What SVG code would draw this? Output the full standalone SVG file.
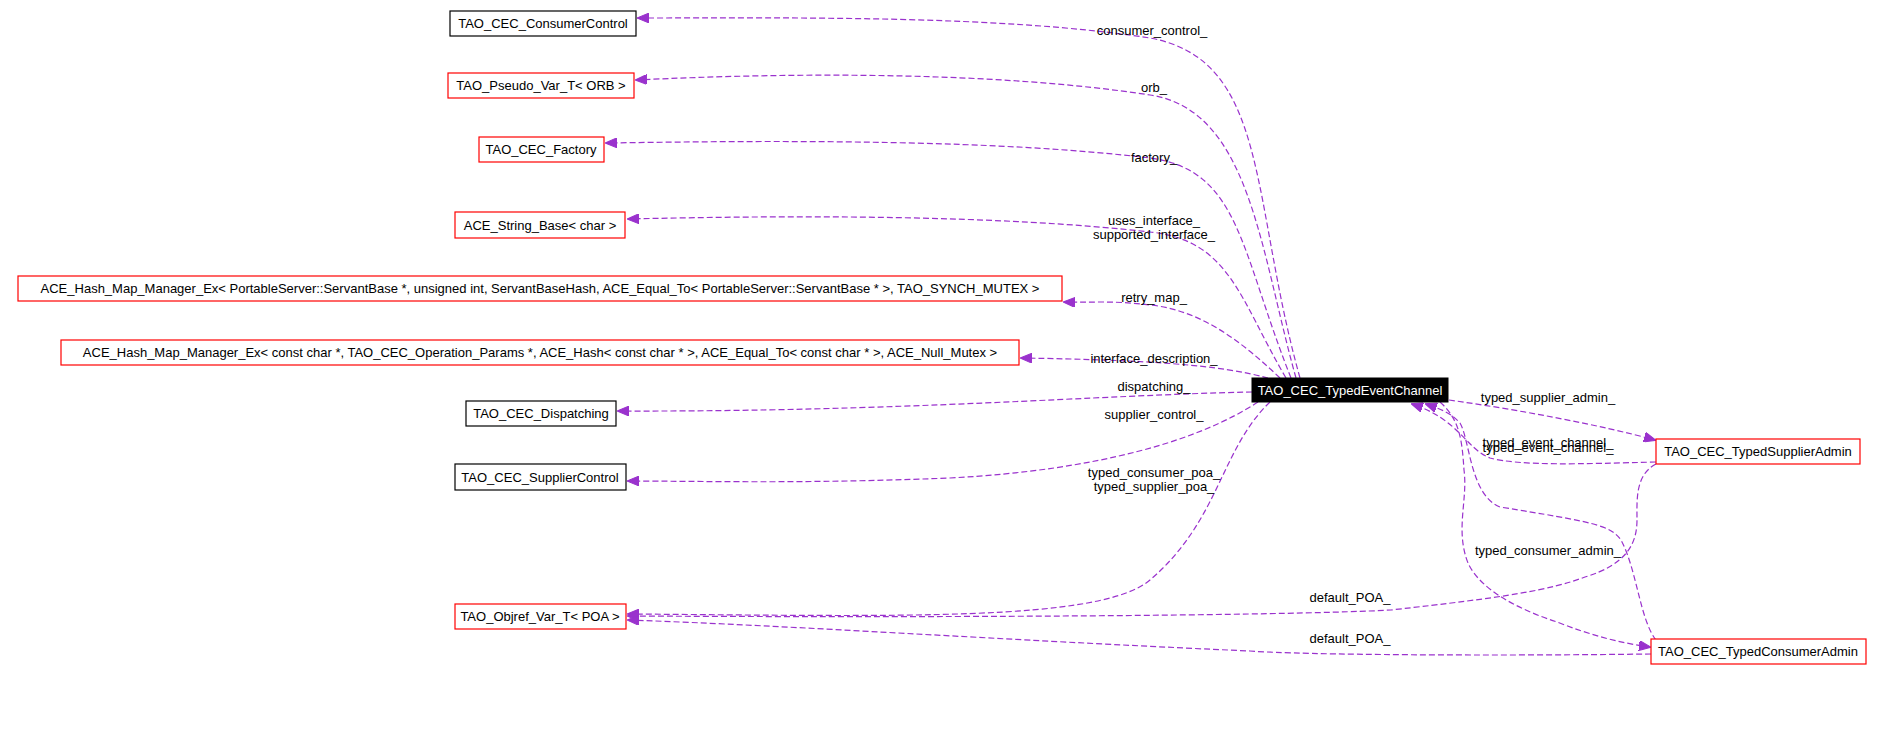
<svg xmlns="http://www.w3.org/2000/svg" width="1883" height="743" viewBox="0 0 1883 743">
<style>
text{font-family:"Liberation Sans",Arial,sans-serif;font-size:13px;fill:#000}
.n{fill:#fff;stroke:#f00;stroke-width:1.2}
.b{fill:#fff;stroke:#000;stroke-width:1.2}
.e{fill:none;stroke:#9a32cd;stroke-width:1.2;stroke-dasharray:6,3}
.m{text-anchor:middle}
</style>
<defs><marker id="a" markerWidth="12" markerHeight="10" refX="11" refY="5" orient="auto" markerUnits="userSpaceOnUse"><path d="M0,0 L12,5 L0,10 z" fill="#9a32cd" stroke="#9a32cd"/></marker></defs>
<rect width="1883" height="743" fill="#fff"/>
<g id="edges">
<path class="e" marker-end="url(#a)" d="M1300,378 C1250,200 1270,60 1150,38 C1000,15 800,18 638,18"/>
<path class="e" marker-end="url(#a)" d="M1296,378 C1260,250 1250,110 1150,95 C1000,72 800,72 636,80"/>
<path class="e" marker-end="url(#a)" d="M1291,378 C1240,250 1240,170 1150,158 C1000,140 800,140 606,143"/>
<path class="e" marker-end="url(#a)" d="M1286,378 C1240,300 1230,240 1150,232 C1000,215 800,215 628,219"/>
<path class="e" marker-end="url(#a)" d="M1280,378 C1240,340 1200,310 1150,305 C1110,300 1090,303 1064,302"/>
<path class="e" marker-end="url(#a)" d="M1268,378 C1220,365 1150,360 1021,358"/>
<path class="e" marker-end="url(#a)" d="M1252,392 C1100,395 900,412 618,411"/>
<path class="e" marker-end="url(#a)" d="M1258,402 C1200,440 1100,470 950,478 C800,484 700,481 628,481"/>
<path class="e" marker-end="url(#a)" d="M1270,402 C1220,450 1220,520 1150,580 C1100,622 900,616 628,614"/>
<path class="e" marker-end="url(#a)" d="M1449,400 C1520,410 1600,425 1655,440"/>
<path class="e" marker-end="url(#a)" d="M1656,462 C1580,464 1520,466 1490,458 C1465,448 1460,420 1412,404"/>
<path class="e" marker-end="url(#a)" d="M1656,640 C1640,620 1637,570 1621,540 C1610,525 1593,522 1500,507 C1470,495 1470,440 1460,423 C1450,412 1440,409 1426,404"/>
<path class="e" marker-end="url(#a)" d="M1440,402 C1460,420 1462,440 1464,470 C1468,500 1455,530 1468,563 C1480,590 1520,610 1557,622 C1590,635 1620,643 1650,647"/>
<path class="e" marker-end="url(#a)" d="M1656,464 C1635,475 1637,500 1637,520 C1637,545 1625,565 1585,577 C1550,590 1508,597 1391,610 C1300,615 1000,618 628,616"/>
<path class="e" marker-end="url(#a)" d="M1651,654 C1500,656 1300,655 1250,651 C1000,640 800,626 628,620"/>
</g>
<g id="labels">
<text class="m" x="1152" y="35">consumer_control_</text>
<text class="m" x="1154" y="92">orb_</text>
<text class="m" x="1154" y="162">factory_</text>
<text class="m" x="1154" y="225">uses_interface_</text>
<text class="m" x="1154" y="239">supported_interface_</text>
<text class="m" x="1154" y="302">retry_map_</text>
<text class="m" x="1154" y="363">interface_description_</text>
<text class="m" x="1154" y="391">dispatching_</text>
<text class="m" x="1154" y="419">supplier_control_</text>
<text class="m" x="1154" y="477">typed_consumer_poa_</text>
<text class="m" x="1154" y="491">typed_supplier_poa_</text>
<text class="m" x="1548" y="402">typed_supplier_admin_</text>
<text class="m" x="1548" y="447">typed_event_channel_</text>
<text class="m" x="1548" y="452">typed_event_channel_</text>
<text class="m" x="1548" y="555">typed_consumer_admin_</text>
<text class="m" x="1350" y="602">default_POA_</text>
<text class="m" x="1350" y="643">default_POA_</text>
</g>
<g id="n1"><rect class="b" x="450" y="11" width="186" height="25"/><text class="m" x="543" y="28">TAO_CEC_ConsumerControl</text></g>
<g id="n2"><rect class="n" x="448" y="73" width="186" height="25"/><text class="m" x="541" y="90">TAO_Pseudo_Var_T&lt; ORB &gt;</text></g>
<g id="n3"><rect class="n" x="479" y="137" width="125" height="25"/><text class="m" x="541" y="154">TAO_CEC_Factory</text></g>
<g id="n4"><rect class="n" x="455" y="212" width="170" height="26"/><text class="m" x="540" y="230">ACE_String_Base&lt; char &gt;</text></g>
<g id="n5"><rect class="n" x="18" y="276" width="1044" height="25"/><text class="m" x="540" y="293">ACE_Hash_Map_Manager_Ex&lt; PortableServer::ServantBase *, unsigned int, ServantBaseHash, ACE_Equal_To&lt; PortableServer::ServantBase * &gt;, TAO_SYNCH_MUTEX &gt;</text></g>
<g id="n6"><rect class="n" x="61" y="340" width="958" height="25"/><text class="m" x="540" y="357">ACE_Hash_Map_Manager_Ex&lt; const char *, TAO_CEC_Operation_Params *, ACE_Hash&lt; const char * &gt;, ACE_Equal_To&lt; const char * &gt;, ACE_Null_Mutex &gt;</text></g>
<g id="n7"><rect class="b" x="466" y="401" width="150" height="25"/><text class="m" x="541" y="418">TAO_CEC_Dispatching</text></g>
<g id="n8"><rect class="b" x="455" y="464" width="171" height="26"/><text class="m" x="540" y="482">TAO_CEC_SupplierControl</text></g>
<g id="n9"><rect class="n" x="455" y="604" width="171" height="25"/><text class="m" x="540" y="621">TAO_Objref_Var_T&lt; POA &gt;</text></g>
<g id="n10"><rect x="1252" y="378" width="196" height="24" fill="#000" stroke="#000"/><text class="m" x="1350" y="395" style="fill:#fff">TAO_CEC_TypedEventChannel</text></g>
<g id="n11"><rect class="n" x="1656" y="439" width="204" height="25"/><text class="m" x="1758" y="456">TAO_CEC_TypedSupplierAdmin</text></g>
<g id="n12"><rect class="n" x="1651" y="639" width="215" height="25"/><text class="m" x="1758" y="656">TAO_CEC_TypedConsumerAdmin</text></g>
</svg>
